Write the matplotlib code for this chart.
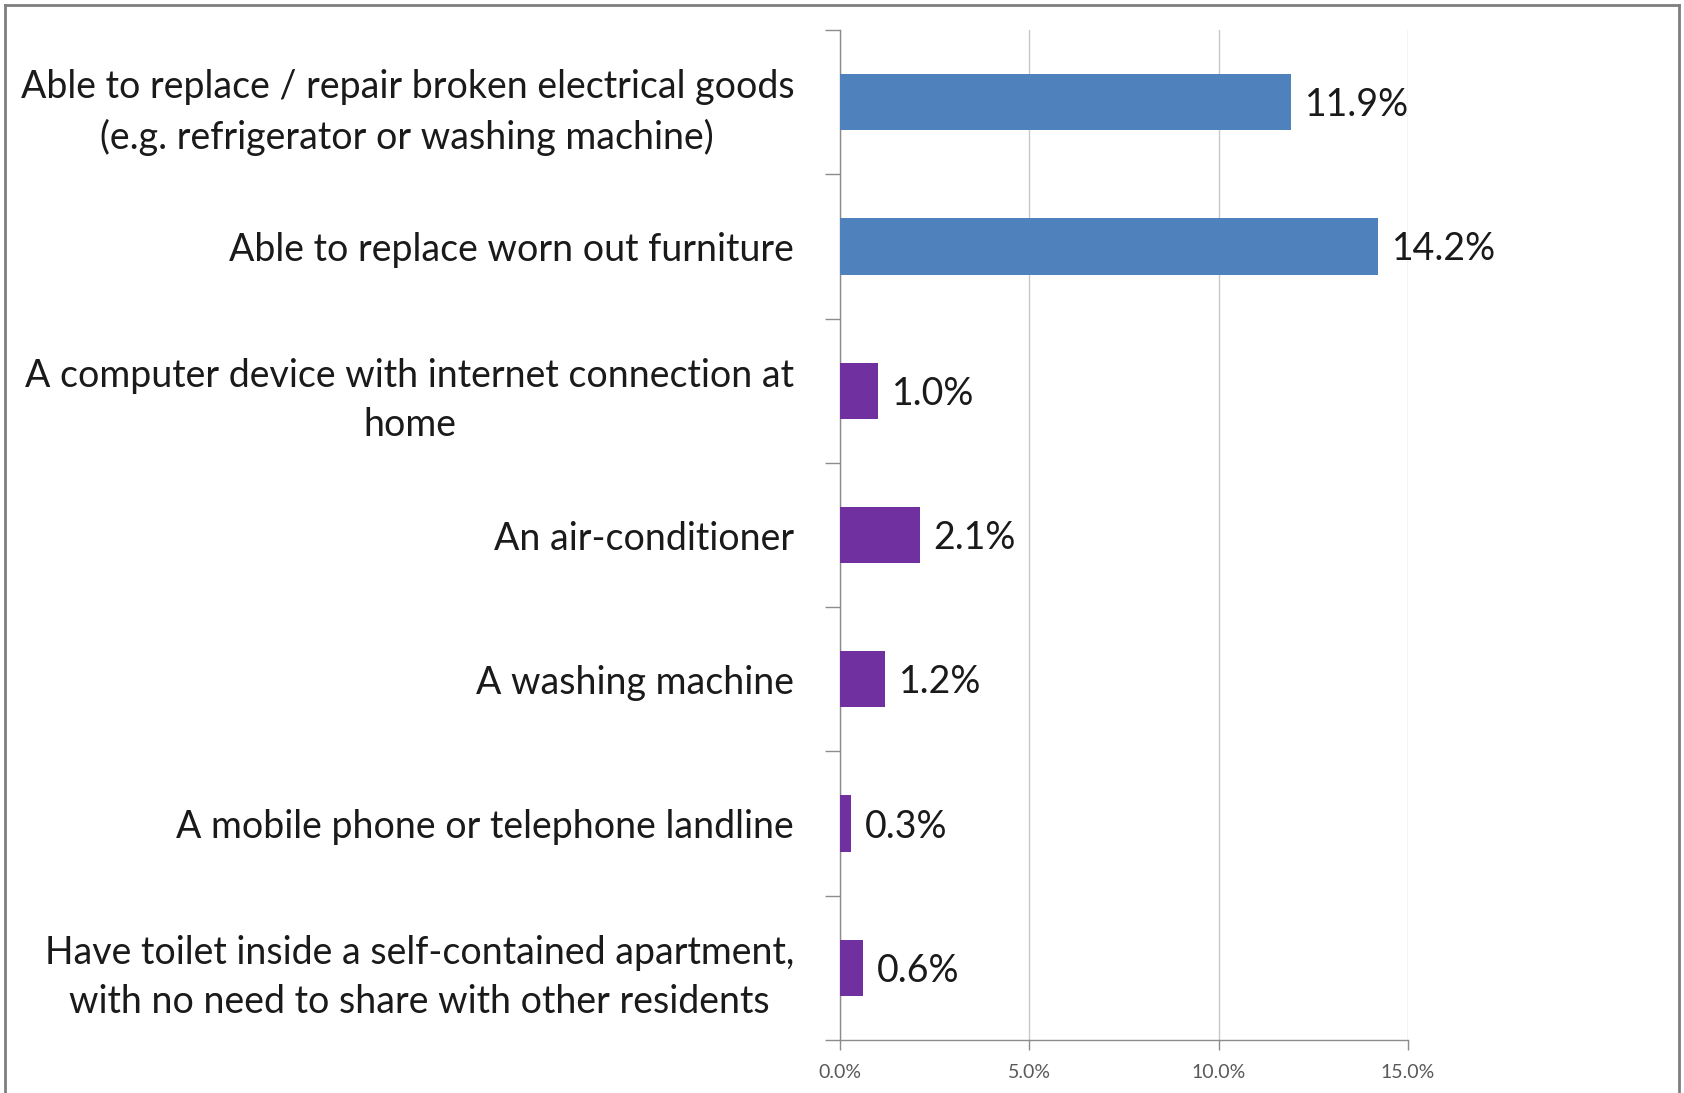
import matplotlib.pyplot as plt
from matplotlib.lines import Line2D
from matplotlib.ticker import FixedLocator, FuncFormatter

# Share of households lacking each item (%)
items = [
    "Able to replace / repair broken electrical goods\n(e.g. refrigerator or washing machine)",
    "Able to replace worn out furniture",
    "A computer device with internet connection at\nhome",
    "An air-conditioner",
    "A washing machine",
    "A mobile phone or telephone landline",
    "Have toilet inside a self-contained apartment,\nwith no need to share with other residents",
]
values = [11.9, 14.2, 1.0, 2.1, 1.2, 0.3, 0.6]
groups = ["blue", "blue", "purple", "purple", "purple", "purple", "purple"]
group_colors = {"blue": "#4F81BD", "purple": "#7030A0"}
x_ticks = [0, 5, 10, 15]

plt.rcParams['font.family'] = ['Lato', 'DejaVu Sans']

W, H = 1684, 1093
fig = plt.figure(figsize=(W / 100, H / 100), dpi=100)
fig.patch.set_facecolor('white')

# plot area in pixel terms
left, right, top, bottom = 840, 1408, 30, 1040
ax = fig.add_axes([left / W, (H - bottom) / H, (right - left) / W, (bottom - top) / H])

ypos = list(range(len(items)))
ax.barh(ypos, values, height=0.39, color=[group_colors[g] for g in groups], zorder=3)

for y, v in zip(ypos, values):
    ax.annotate(f"{v:.1f}%", xy=(v, y), xytext=(14, -3), textcoords='offset pixels',
                va='center', ha='left', fontsize=27, color='#1a1a1a', zorder=4)

ax.set_xlim(0, 15)
ax.set_ylim(len(items) - 0.5, -0.5)

ax.xaxis.set_major_locator(FixedLocator(x_ticks))
ax.xaxis.set_major_formatter(FuncFormatter(lambda v, p: f"{v:.1f}%"))
ax.tick_params(axis='x', direction='out', length=7, width=1, color='#8c8c8c',
               labelsize=14, labelcolor='#595959', pad=10)
ax.grid(axis='x', color='#c8c8c8', linewidth=1, zorder=0)

ax.set_yticks(ypos)
ax.set_yticklabels(items, multialignment='center', linespacing=1.45)
ax.set_yticks([i - 0.5 for i in range(len(items) + 1)], minor=True)
ax.tick_params(axis='y', which='major', length=0, pad=33, labelsize=27, labelcolor='#1a1a1a')
ax.tick_params(axis='y', which='minor', direction='out', length=11, width=1, color='#8c8c8c')

for side in ['top', 'right']:
    ax.spines[side].set_visible(False)
for side in ['left', 'bottom']:
    ax.spines[side].set_color('#8c8c8c')
    ax.spines[side].set_linewidth(1)

# outer frame around the chart (open at the bottom)
frame_kw = dict(color='#7f7f7f', linewidth=2, transform=fig.transFigure)
fig.add_artist(Line2D([5 / W, 5 / W], [0, 1 - 5 / H], **frame_kw))
fig.add_artist(Line2D([5 / W, 1679 / W], [1 - 5 / H, 1 - 5 / H], **frame_kw))
fig.add_artist(Line2D([1679 / W, 1679 / W], [0, 1 - 5 / H], **frame_kw))

fig.savefig('out.png', dpi=100)
